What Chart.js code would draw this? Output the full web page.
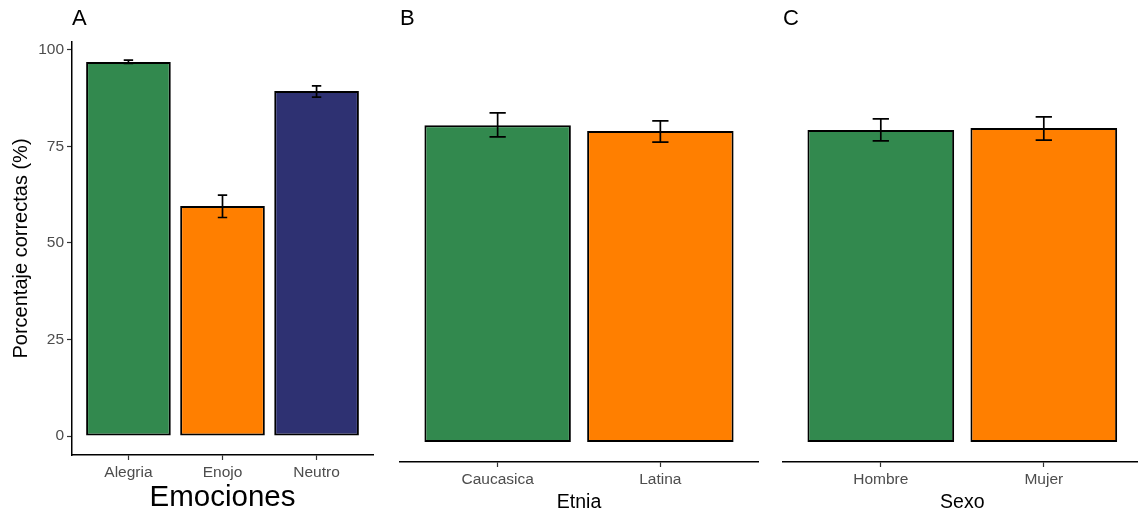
<!DOCTYPE html>
<html lang="es">
<head>
<meta charset="UTF-8">
<title>Porcentaje correctas</title>
<style>
  html, body { margin: 0; padding: 0; background: #fff; overflow: hidden; width: 1138px; height: 513px; }
  .panel { position: absolute; top: 0; height: 513px; }
</style>
</head>
<body>
<div class="panel" style="left:0;width:380px"><canvas id="chartA"></canvas></div>
<div class="panel" style="left:380px;width:380px"><canvas id="chartB"></canvas></div>
<div class="panel" style="left:760px;width:390px"><canvas id="chartC"></canvas></div>

<script src="https://cdn.jsdelivr.net/npm/chart.js"></script>
<script>
    // panel A
    const emociones = ['Alegria', 'Enojo', 'Neutro'];
    const emocionesMedia = [96.9, 59.6, 89.4];
    const emocionesInf = [96.5, 56.6, 87.8];
    const emocionesSup = [97.4, 62.4, 90.7];
    // panel B
    const etnias = ['Caucasica', 'Latina'];
    const etniaMedia = [80.4, 78.9];
    const etniaInf = [77.4, 76.1];
    const etniaSup = [83.5, 81.5];
    // panel C
    const sexos = ['Hombre', 'Mujer'];
    const sexoMedia = [79.2, 79.7];
    const sexoInf = [76.4, 76.6];
    const sexoSup = [82.0, 82.5];

    const yTicks = [0, 25, 50, 75, 100];

    const verde = '#32894E', naranja = '#FF7F00', azul = '#2E3172';
    const FONT = "'Liberation Sans', Arial, sans-serif";

    function errorBars(low, high) {
        return {
            id: 'errorBars',
            afterDatasetsDraw(chart) {
                const ctx = chart.ctx, x = chart.scales.x, y = chart.scales.y;
                const half = x.getPixelForValue(0.05) - x.getPixelForValue(0);
                ctx.save();
                ctx.strokeStyle = '#000';
                ctx.lineWidth = 1.7;
                low.forEach((lo, i) => {
                    const px = x.getPixelForValue(i);
                    const yl = y.getPixelForValue(lo), yh = y.getPixelForValue(high[i]);
                    ctx.beginPath();
                    ctx.moveTo(px, yl); ctx.lineTo(px, yh);
                    ctx.moveTo(px - half, yl); ctx.lineTo(px + half, yl);
                    ctx.moveTo(px - half, yh); ctx.lineTo(px + half, yh);
                    ctx.stroke();
                });
                ctx.restore();
            }
        };
    }

    function panelLetter(letter) {
        return {
            id: 'panelLetter',
            afterDraw(chart) {
                const ctx = chart.ctx;
                ctx.save();
                ctx.font = '22px ' + FONT;
                ctx.fillStyle = '#000';
                ctx.textBaseline = 'middle';
                ctx.textAlign = 'left';
                ctx.fillText(letter, chart.chartArea.left, 19);
                ctx.restore();
            }
        };
    }

    function makePanel(id, cats, media, inf, sup, colores, o) {
        const yScale = {
            min: o.yMin, max: o.yMax,
            display: o.showY,
            afterFit(s) { s.width = o.yWidth; },
            grid: { drawOnChartArea: false, drawTicks: true, tickLength: 5, tickColor: '#333', tickWidth: 1.2 },
            border: { display: true, color: '#000', width: 1.5 },
            ticks: { color: '#4D4D4D', font: { family: FONT, size: 15.5 }, padding: 3 },
            afterBuildTicks(s) { s.ticks = yTicks.map(v => ({ value: v })); },
            title: {
                display: o.showY, text: 'Porcentaje correctas (%)', color: '#000',
                font: { family: FONT, size: 20, lineHeight: 1 }, padding: { top: 11, bottom: 0 }
            }
        };
        return new Chart(document.getElementById(id), {
            type: 'bar',
            data: {
                datasets: [{
                    data: cats.map((c, i) => ({ x: i, y: media[i] })),
                    backgroundColor: colores,
                    borderColor: '#000',
                    borderWidth: 2,
                    borderSkipped: false,
                    categoryPercentage: 1,
                    barPercentage: 0.9
                }]
            },
            options: {
                responsive: true,
                maintainAspectRatio: false,
                animation: false,
                layout: { padding: { top: 42, left: o.padLeft, right: o.padRight, bottom: 0 } },
                plugins: { legend: { display: false }, tooltip: { enabled: false }, title: { display: false } },
                scales: {
                    x: {
                        type: 'linear',
                        offset: false,
                        min: -0.6, max: cats.length - 0.4,
                        afterFit(s) { s.height = o.xHeight; },
                        afterBuildTicks(s) { s.ticks = cats.map((c, i) => ({ value: i })); },
                        grid: { offset: false, drawOnChartArea: false, drawTicks: true, tickLength: 5, tickColor: '#333', tickWidth: 1.2 },
                        border: { display: true, color: '#000', width: 1.5 },
                        ticks: {
                            color: '#4D4D4D', font: { family: FONT, size: 15.5 }, padding: 3,
                            maxRotation: 0, autoSkip: false,
                            callback: v => cats[v]
                        },
                        title: {
                            display: true, text: o.xTitle, color: '#000',
                            font: { family: FONT, size: o.xTitleSize, lineHeight: 1 },
                            padding: { top: 0, bottom: o.xTitlePad }
                        }
                    },
                    y: yScale
                }
            },
            plugins: [errorBars(inf, sup), panelLetter(o.letter)]
        });
    }

    makePanel('chartA', emociones, emocionesMedia, emocionesInf, emocionesSup,
        [verde, naranja, azul],
        { letter: 'A', showY: true, yWidth: 72, yMin: -4.92, yMax: 102.07, padLeft: 0, padRight: 7,
          xHeight: 58, xTitle: 'Emociones', xTitleSize: 29.5, xTitlePad: 0 });

    makePanel('chartB', etnias, etniaMedia, etniaInf, etniaSup,
        [verde, naranja],
        { letter: 'B', showY: false, yWidth: 0, yMin: -5.08, yMax: 101.5, padLeft: 20, padRight: 2,
          xHeight: 51, xTitle: 'Etnia', xTitleSize: 19.5, xTitlePad: 1 });

    makePanel('chartC', sexos, sexoMedia, sexoInf, sexoSup,
        [verde, naranja],
        { letter: 'C', showY: false, yWidth: 0, yMin: -5.08, yMax: 101.5, padLeft: 23, padRight: 8.4,
          xHeight: 51, xTitle: 'Sexo', xTitleSize: 19.5, xTitlePad: 1 });
</script>
</body>
</html>
